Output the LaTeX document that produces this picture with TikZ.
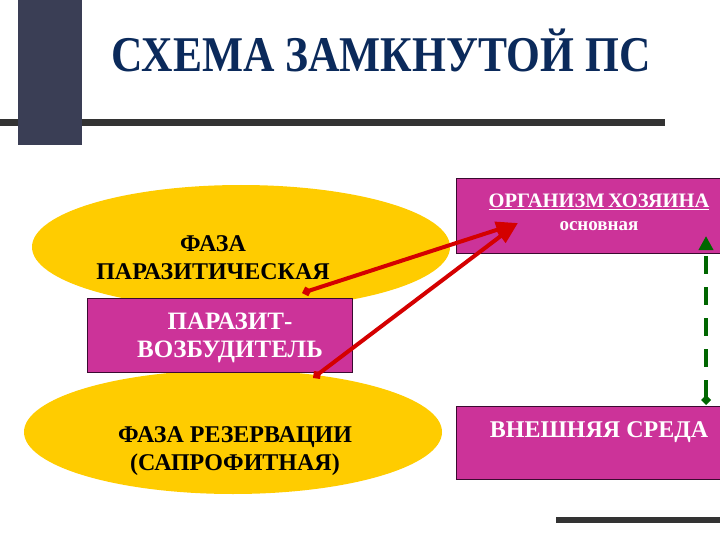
\documentclass[tikz,border=0pt]{standalone}
\usepackage{fontspec}
\setmainfont{Liberation Serif}
\usetikzlibrary{arrows.meta,shapes.geometric}
\definecolor{gold}{HTML}{FFCC00}
\definecolor{mag}{HTML}{CC3399}
\definecolor{magborder}{HTML}{3A0A30}
\definecolor{navy}{HTML}{0B2A5B}
\definecolor{slate}{HTML}{3A3E55}
\definecolor{barc}{HTML}{333333}
\definecolor{arrred}{HTML}{D40000}
\definecolor{grn}{HTML}{006600}
\tikzset{
  phase/.style={ellipse, fill=gold, inner sep=0pt, minimum width=418pt, minimum height=124pt},
  magbox/.style={rectangle, fill=mag, draw=magborder, line width=1pt, inner sep=0pt},
  blacktxt/.style={align=center, text=black, font=\fontsize{24}{28}\selectfont\bfseries},
  whitetxt/.style={align=center, text=white, font=\fontsize{25}{28}\selectfont\bfseries},
  redarrow/.style={draw=arrred, line width=4pt, {Diamond[length=10pt,width=10pt]}-{Triangle[length=22pt,width=16pt]}},
  greenarrow/.style={draw=grn, line width=4pt, dash pattern=on 18pt off 13pt, {Diamond[length=10pt,width=10pt]}-{Triangle[length=14pt,width=14pt]}}
}
\begin{document}
\begin{tikzpicture}[x=1pt,y=-1pt]
\useasboundingbox (0,0) rectangle (720,540);
% decorative bars
\fill[barc] (0,119) rectangle (665,126);
\fill[slate] (18,0) rectangle (82,145);
\fill[barc] (556,517) rectangle (720,523);
% title
\node[font=\fontsize{50}{60}\selectfont\bfseries, text=navy] (title) at (381,50) {\scalebox{0.87}[1]{СХЕМА ЗАМКНУТОЙ ПС}};
% ellipses
\node[phase] (e1) at (241,247) {};
\node[phase] (e2) at (233,432) {};
\node[blacktxt] (t1) at (213,258) {ФАЗА\\ПАРАЗИТИЧЕСКАЯ};
\node[blacktxt] (t2) at (235,451) {ФАЗА РЕЗЕРВАЦИИ\\(САПРОФИТНАЯ)};
% parasite box
\node[magbox, minimum width=265pt, minimum height=74pt] (pb) at (219.5,335) {};
\node[whitetxt] (pbt) at (230,338) {ПАРАЗИТ-\\ВОЗБУДИТЕЛЬ};
% right boxes
\node[magbox, minimum width=268pt, minimum height=74pt] (host) at (590,216) {};
\node[text=white, font=\fontsize{20.5}{24}\selectfont\bfseries] (hostt) at (599,202) {\underline{ОРГАНИЗМ\,ХОЗЯИНА}};
\node[text=white, font=\fontsize{19}{22}\selectfont\bfseries] (hostsub) at (599,226) {основная};
\node[magbox, minimum width=268pt, minimum height=73pt] (env) at (590,442.5) {};
\node[whitetxt, font=\fontsize{24}{28}\selectfont\bfseries] (envt) at (599,432) {ВНЕШНЯЯ СРЕДА};
% connectors
\coordinate (a1) at (302,293);
\coordinate (a2) at (313,378);
\coordinate (tip) at (518,223);
\draw[redarrow] (a1) -- (tip);
\draw[redarrow] (a2) -- (tip);
\coordinate (g1) at (706,405);
\coordinate (g2) at (706,236);
\draw[greenarrow] (g1) -- (g2);
\end{tikzpicture}
\end{document}
